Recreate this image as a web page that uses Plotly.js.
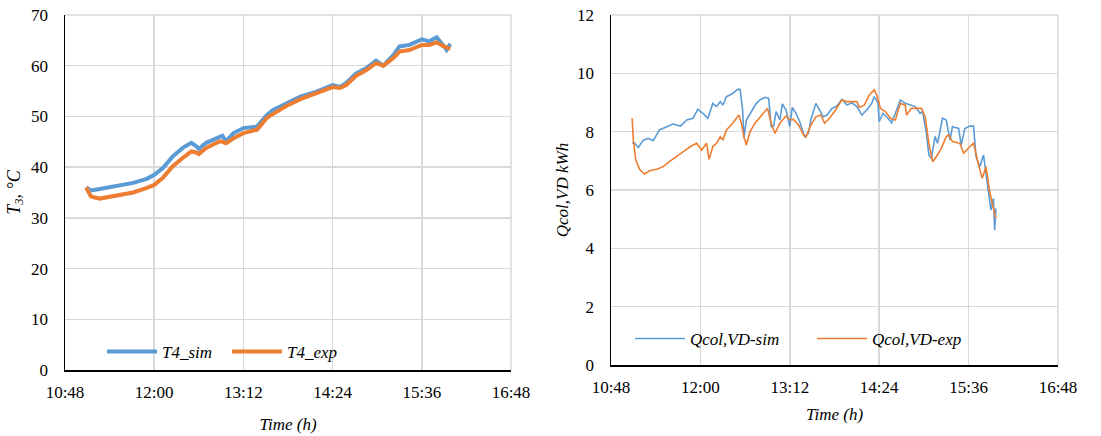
<!DOCTYPE html>
<html>
<head>
<meta charset="utf-8">
<script src="https://cdn.plot.ly/plotly-3.0.1.min.js"></script>
<style>html,body{margin:0;padding:0;background:#fff;overflow:hidden;}#chart{width:1101px;height:436px;}</style>
</head>
<body>
<div id="chart"></div>
<script>
// Left chart: T4 temperature
const tTimes = ["11:05","11:09","11:16","11:30","11:43","11:54","12:00","12:07","12:15","12:23","12:30","12:34","12:36","12:42","12:53","12:55","12:58","13:04","13:12","13:23","13:31","13:36","13:47","13:58","14:11","14:24","14:30","14:35","14:43","14:51","14:59","15:05","15:13","15:18","15:26","15:36","15:42","15:48","15:53","15:56","15:59"];
const t4Sim = [36.0,35.4,35.7,36.4,36.9,37.7,38.5,39.8,42.1,43.8,44.8,44.1,43.6,44.8,46.1,46.2,45.1,46.7,47.7,48.0,50.3,51.3,52.6,53.9,54.9,56.2,55.8,56.6,58.5,59.5,61.0,60.0,62.1,63.8,64.1,65.2,64.8,65.6,64.1,63.1,64.3];
const t4Exp = [36.0,34.2,33.8,34.4,35.0,35.9,36.5,37.9,40.2,41.8,43.1,42.9,42.6,43.8,45.1,45.0,44.7,45.7,46.7,47.4,49.7,50.5,52.1,53.4,54.6,55.8,55.6,56.2,58.0,59.1,60.5,60.0,61.5,62.8,63.1,64.1,64.1,64.6,63.9,63.6,63.3];

// Right chart: Qcol,VD
const qSimTimes = ["11:05","11:07","11:10","11:14","11:18","11:22","11:27","11:33","11:38","11:44","11:49","11:54","11:58","12:02","12:06","12:10","12:13","12:16","12:18","12:21","12:26","12:30","12:32","12:34","12:35","12:37","12:41","12:45","12:48","12:52","12:55","12:57","12:59","13:01","13:04","13:06","13:09","13:12","13:14","13:17","13:20","13:24","13:27","13:29","13:33","13:36","13:39","13:42","13:46","13:50","13:54","13:58","14:02","14:06","14:10","14:14","14:18","14:20","14:23","14:24","14:27","14:31","14:34","14:37","14:41","14:45","14:49","14:53","14:57","14:59","15:02","15:04","15:06","15:09","15:11","15:15","15:18","15:21","15:23","15:28","15:30","15:33","15:37","15:40","15:42","15:45","15:48","15:50","15:52","15:54","15:56","15:57","15:58"];
const qSim = [7.62,7.60,7.46,7.71,7.77,7.69,8.06,8.17,8.26,8.19,8.40,8.46,8.77,8.63,8.46,8.97,8.86,9.03,8.91,9.20,9.31,9.45,9.45,8.74,7.77,8.40,8.69,8.97,9.09,9.18,9.14,8.17,8.19,8.69,8.40,8.95,8.74,8.17,8.83,8.63,8.34,7.83,7.94,8.42,8.97,8.74,8.51,8.57,8.80,8.88,9.11,8.91,8.99,8.86,8.57,8.74,8.97,9.20,8.99,8.34,8.63,8.46,8.31,8.63,9.09,8.97,8.91,8.86,8.63,8.69,7.94,7.20,7.09,7.83,7.60,8.46,8.40,7.71,8.17,8.11,7.54,8.11,8.19,8.19,7.14,6.80,7.20,6.57,5.89,5.31,5.71,4.63,5.37];
const qExpTimes = ["11:05","11:06","11:08","11:11","11:15","11:19","11:25","11:30","11:35","11:41","11:46","11:52","11:57","12:01","12:05","12:07","12:10","12:13","12:16","12:18","12:21","12:26","12:31","12:33","12:35","12:37","12:40","12:44","12:48","12:52","12:54","12:57","13:00","13:04","13:09","13:12","13:15","13:19","13:23","13:25","13:29","13:33","13:37","13:40","13:44","13:48","13:54","13:58","14:02","14:06","14:08","14:12","14:16","14:20","14:22","14:25","14:29","14:33","14:37","14:41","14:45","14:46","14:50","14:54","14:58","15:01","15:04","15:07","15:10","15:14","15:18","15:20","15:23","15:29","15:32","15:37","15:40","15:44","15:47","15:50","15:53","15:56","15:58"];
const qExp = [8.46,7.71,7.03,6.71,6.55,6.66,6.71,6.80,6.97,7.14,7.31,7.49,7.60,7.37,7.60,7.05,7.49,7.60,7.83,7.71,8.06,8.29,8.57,8.29,7.83,7.54,8.00,8.29,8.51,8.69,8.80,8.29,7.94,8.29,8.54,8.40,8.42,8.23,7.89,7.81,8.23,8.51,8.57,8.29,8.46,8.69,9.09,9.03,9.03,9.03,8.83,8.91,9.26,9.43,9.26,8.80,8.69,8.46,8.40,8.97,8.91,8.57,8.80,8.80,8.80,8.51,7.60,6.97,7.14,7.43,7.83,7.89,7.66,7.60,7.26,7.49,7.60,6.86,6.40,6.80,5.94,5.37,5.03];

const xTickLabels = ["10:48","12:00","13:12","14:24","15:36","16:48"];
const tempTicks = [0,10,20,30,40,50,60,70];
const qTicks = [0,2,4,6,8,10,12];

const D = "2000-01-01 ";
const toDate = a => a.map(s => D + s + ":00");
const tickVals = toDate(xTickLabels);

const BLUE = "#5B9BD5", ORANGE = "#ED7D31";
const FONT = "Liberation Serif";
const W = 1101, H = 436;

const traces = [
  {x: toDate(tTimes), y: t4Sim, name: "<i>T4_sim</i>", type: "scatter", mode: "lines",
   line: {color: BLUE, width: 4}, xaxis: "x", yaxis: "y", legend: "legend"},
  {x: toDate(tTimes), y: t4Exp, name: "<i>T4_exp</i>", type: "scatter", mode: "lines",
   line: {color: ORANGE, width: 4}, xaxis: "x", yaxis: "y", legend: "legend"},
  {x: toDate(qSimTimes), y: qSim, name: "<i>Qcol,VD-sim</i>", type: "scatter", mode: "lines",
   line: {color: BLUE, width: 1.6}, xaxis: "x2", yaxis: "y2", legend: "legend2"},
  {x: toDate(qExpTimes), y: qExp, name: "<i>Qcol,VD-exp</i>", type: "scatter", mode: "lines",
   line: {color: ORANGE, width: 1.6}, xaxis: "x2", yaxis: "y2", legend: "legend2"}
];

const GRID = "#d9d9d9";
const xCommon = {
  type: "date", range: [tickVals[0], tickVals[tickVals.length-1]],
  tickmode: "array", tickvals: tickVals, ticktext: xTickLabels,
  showgrid: true, gridcolor: GRID, gridwidth: 1.5,
  showline: true, linecolor: "#000", linewidth: 1.5, zeroline: false,
  ticks: "", tickfont: {family: FONT, size: 17, color: "#000"}, ticklabelstandoff: 6,
  automargin: false
};
const yCommon = {
  showgrid: true, gridcolor: GRID, gridwidth: 1.5,
  showline: true, linecolor: "#000", linewidth: 1.5, zeroline: false,
  ticks: "", tickfont: {family: FONT, size: 17, color: "#000"}, ticklabelstandoff: 12,
  automargin: false
};

const edge = (xr, yr, x0, x1, y0, y1) => ({type: "line", xref: xr, yref: yr, x0, x1, y0, y1,
  line: {color: GRID, width: 1.5}, layer: "below"});

const layout = {
  width: W, height: H,
  margin: {l: 0, r: 0, t: 0, b: 0},
  paper_bgcolor: "#fff", plot_bgcolor: "#fff",
  font: {family: FONT, color: "#000"},
  xaxis: Object.assign({}, xCommon, {domain: [65/W, 511/W], anchor: "y",
    title: {text: "<i>Time (h)</i>", font: {family: FONT, size: 17}, standoff: 17}}),
  yaxis: Object.assign({}, yCommon, {domain: [(H-370)/H, (H-15)/H], anchor: "x",
    range: [0, 70], tickvals: tempTicks,
    title: {text: "<i>T<sub>3</sub>, °C</i>", font: {family: FONT, size: 18}, standoff: 6}}),
  xaxis2: Object.assign({}, xCommon, {domain: [611/W, 1058/W], anchor: "y2",
    title: {text: "<i>Time (h)</i>", font: {family: FONT, size: 17}, standoff: 12}}),
  yaxis2: Object.assign({}, yCommon, {domain: [(H-365)/H, (H-15)/H], anchor: "x2",
    range: [0, 12], tickvals: qTicks,
    title: {text: "<i>Qcol,VD kWh</i>", font: {family: FONT, size: 17}, standoff: 4}}),
  shapes: [
    edge("x domain", "y domain", 1, 1, 0, 1),
    edge("x domain", "y domain", 0, 1, 1, 1),
    edge("x2 domain", "y2 domain", 1, 1, 0, 1),
    edge("x2 domain", "y2 domain", 0, 1, 1, 1)
  ],
  legend: {orientation: "h", x: 102/W, y: 1 - 352/H, xanchor: "left", yanchor: "middle",
    bgcolor: "rgba(0,0,0,0)", font: {family: FONT, size: 17}, itemwidth: 50, entrywidth: 60},
  legend2: {orientation: "h", x: 630/W, y: 1 - 339/H, xanchor: "left", yanchor: "middle",
    bgcolor: "rgba(0,0,0,0)", font: {family: FONT, size: 17}, itemwidth: 50, entrywidth: 117},
  showlegend: true
};

Plotly.newPlot("chart", traces, layout, {displayModeBar: false, staticPlot: true});
</script>
</body>
</html>
